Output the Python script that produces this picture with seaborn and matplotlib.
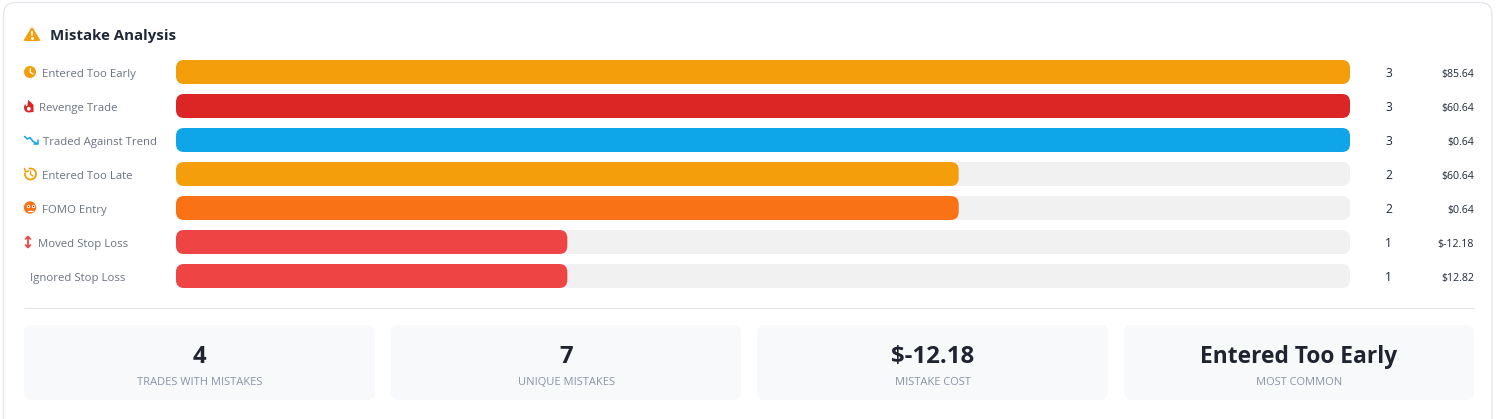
import numpy as np
import pandas as pd
import matplotlib
matplotlib.use("Agg")
import matplotlib.pyplot as plt
import seaborn as sns
from matplotlib.patches import FancyBboxPatch, Circle, Polygon, PathPatch, Arc
from matplotlib.path import Path

mistakes = ["Entered Too Early", "Revenge Trade", "Traded Against Trend", "Entered Too Late",
            "FOMO Entry", "Moved Stop Loss", "Ignored Stop Loss"]
counts = [3, 3, 3, 2, 2, 1, 1]
costs = ["$85.64", "$60.64", "$0.64", "$60.64", "$0.64", "$-12.18", "$12.82"]
bar_colors = ["#f59e0b", "#dc2626", "#0ea5e9", "#f59e0b", "#f97316", "#ef4444", "#ef4444"]
label_left = [42, 39, 43, 42, 42, 38, 30]
stat_values = ["4", "7", "$-12.18", "Entered Too Early"]
stat_sizes = [24, 24, 24, 22.7]
stat_labels = ["TRADES WITH MISTAKES", "UNIQUE MISTAKES", "MISTAKE COST", "MOST COMMON"]
track_max = 3

W, H = 1498, 419
FONT = ["Open Sans", "DejaVu Sans"]
PX = 0.72  # points per pixel at 100 dpi

sns.set_theme(style="white")
plt.rcParams["font.family"] = FONT

fig = plt.figure(figsize=(W / 100, H / 100), dpi=100, facecolor="white")

# Page-space layer, addressed in pixels from the top-left corner
bg = fig.add_axes([0, 0, 1, 1], zorder=0)
bg.set_xlim(0, W)
bg.set_ylim(H, 0)
bg.axis("off")


def card(ax, x0, y0, x1, y1, r, fc, ec="none", lw=0):
    ax.add_patch(FancyBboxPatch((x0 + r, y0 + r), x1 - x0 - 2 * r, y1 - y0 - 2 * r,
                                boxstyle=f"round,pad={r},rounding_size={r}",
                                fc=fc, ec=ec, lw=lw))


card(bg, 3.5, 2.5, 1492, 440, 12, "white", "#e5e7eb", 1.0)
bg.plot([24, 1474], [308, 308], color="#e5e7eb", lw=0.8, solid_capstyle="butt")

# Heading
bg.add_patch(Polygon([[32, 28.5], [39, 40], [25, 40]], closed=True, fc="#f59e0b", ec="#f59e0b",
                     lw=1.5, joinstyle="round"))
bg.plot([32, 32], [31.5, 36], color="white", lw=1.1, solid_capstyle="butt")
bg.plot([32], [38.2], "o", color="white", ms=1.2)
bg.text(50.5, 34.6, "Mistake Analysis", fontsize=15 * PX, fontweight="bold", color="#1f2937",
        va="center_baseline", ha="left")

# Row icons
# clock
bg.add_patch(Circle((30, 72), 6, fc="#f59e0b", ec="none"))
bg.plot([30.3, 30.3, 33], [68.5, 72.3, 74], color="white", lw=0.9)
# flame
flame = Path([(28.5, 112.5), (24, 112), (24, 107.5), (24, 105.5), (25.5, 104), (26, 106), (27, 106.5),
              (28, 104), (28, 100), (31, 102), (33.5, 105), (33.5, 108), (33.5, 112), (28.5, 112.5), (28.5, 112.5)],
             [Path.MOVETO, Path.CURVE3, Path.CURVE3, Path.CURVE3, Path.CURVE3, Path.LINETO, Path.LINETO,
              Path.CURVE3, Path.CURVE3, Path.CURVE3, Path.CURVE3, Path.CURVE3, Path.CURVE3, Path.CURVE3,
              Path.CLOSEPOLY])
bg.add_patch(PathPatch(flame, fc="#dc2626", ec="none"))
bg.add_patch(Circle((28.8, 108.8), 1.9, fc="white", ec="none"))
# falling trend
bg.plot([24.5, 27.5, 30, 33, 37], [136.5, 139, 137.5, 141.5, 143.5], color="#0ea5e9", lw=1.1)
bg.plot([37.5, 37.5, 33.5], [140, 144, 144], color="#0ea5e9", lw=1.1)
# history arrow
bg.add_patch(Arc((30.5, 174), 11, 11, theta1=-110, theta2=190, color="#f59e0b", lw=1.3))
bg.plot([24.5, 25.5, 28.5], [168.5, 172, 171], color="#f59e0b", lw=1.1)
bg.plot([30.5, 30.5, 33], [171, 174.5, 176], color="#f59e0b", lw=1.0)
# face
bg.add_patch(Circle((30, 207.5), 6.2, fc="#f97316", ec="none"))
bg.plot([27.5, 32.5], [206, 206], "o", color="white", ms=2.4, mew=0)
bg.plot([27.5, 32.5], [206, 206], "o", color="#7c2d12", ms=1.0, mew=0)
bg.plot([27.5, 32.5], [210.5, 210.5], color="white", lw=0.9)
# vertical move arrow
bg.plot([28, 28], [237, 247], color="#ef4444", lw=1.3)
bg.plot([25.5, 28, 30.5], [239, 236.5, 239], color="#ef4444", lw=1.2)
bg.plot([25.5, 28, 30.5], [245, 247.5, 245], color="#ef4444", lw=1.2)

# Stat cards
for x0, x1, val, size, lab in zip([24, 391, 757, 1124], [375, 741, 1108, 1474],
                                  stat_values, stat_sizes, stat_labels):
    card(bg, x0, 325, x1, 400, 8, "#f8f9fa")
    xc = (x0 + x1) / 2
    bg.text(xc, 354, val, fontsize=size * PX, fontweight="bold", color="#1f2430", ha="center",
            va="center_baseline")
    bg.text(xc, 381, lab, fontsize=11.1 * PX, color="#8a94a6", ha="center", va="center_baseline")

# Bars share one data scale: the axes runs across the track width, one band per row
df = pd.DataFrame({"mistake": mistakes, "count": counts, "track": [track_max] * len(mistakes)})
ax = fig.add_axes([176 / W, 1 - 293 / H, (1350 - 176) / W, 238 / H], zorder=1)
ax.patch.set_alpha(0)
sns.barplot(data=df, y="mistake", x="track", color="#f1f1f1", width=24 / 34, saturation=1, ax=ax, errorbar=None)
sns.barplot(data=df, y="mistake", x="count", hue="mistake", palette=bar_colors, width=24 / 34,
            saturation=1, legend=False, ax=ax, errorbar=None)
ax.set_xlim(0, track_max)
ax.set_ylim(6.5, -0.5)
ax.axis("off")

# Swap the square bars for rounded ones of the same geometry
x_px = (1350 - 176) / track_max
y_px = 34.0
radius = 8 / x_px
for rect in list(ax.patches):
    x, y, w, h = rect.get_x(), rect.get_y(), rect.get_width(), rect.get_height()
    pad_y = radius * x_px / y_px
    rounded = FancyBboxPatch((x + radius, y + pad_y), w - 2 * radius, h - 2 * pad_y,
                             boxstyle=f"round,pad={radius},rounding_size={radius}",
                             mutation_aspect=x_px / y_px, fc=rect.get_facecolor(), ec="none", lw=0)
    rect.remove()
    ax.add_patch(rounded)

# Row text
for i, (name, n, cost, lx) in enumerate(zip(mistakes, counts, costs, label_left)):
    yc = 72.8 + 34 * i
    bg.text(lx, yc, name, fontsize=11.4 * PX, color="#6b7280", ha="left", va="center_baseline")
    bg.text(1388.5, yc - 0.6, str(n), fontsize=12 * PX, color="#1f2937", ha="center", va="center_baseline")
    bg.text(1474, yc, cost, fontsize=10.5 * PX, color="#1f2937", ha="right", va="center_baseline")

fig.savefig("out.png", dpi=100, facecolor="white")
